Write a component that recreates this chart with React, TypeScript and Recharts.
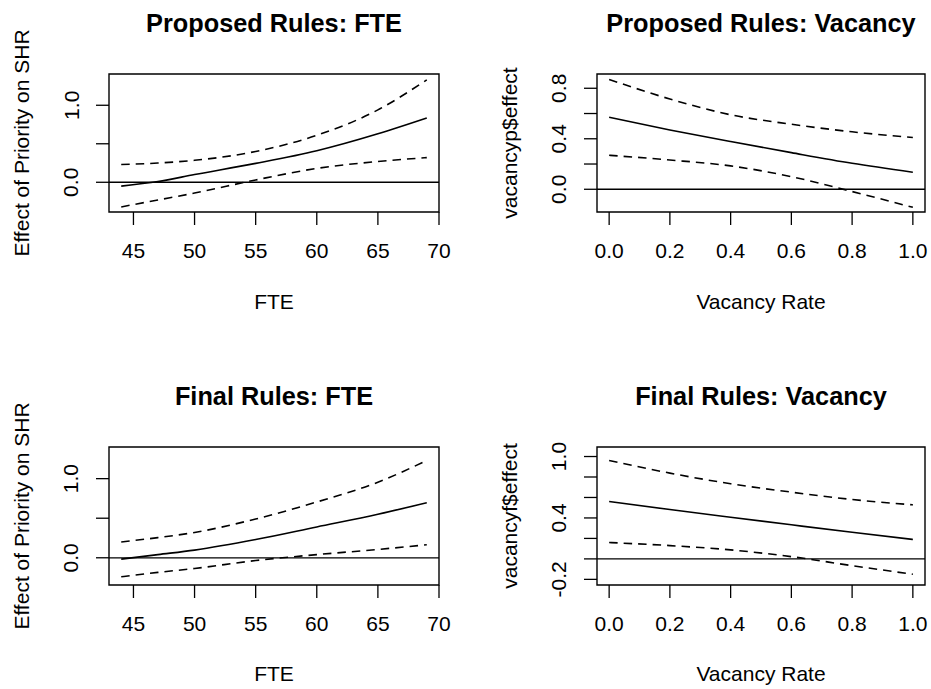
import React from "react";
import { LineChart, Line, XAxis, YAxis, ReferenceLine, ReferenceArea } from "recharts";

// ---- Data ----
const fteX = [44, 47, 50, 55, 60, 65, 69];
const propFteFit = [-0.05, 0.01, 0.1, 0.245, 0.41, 0.63, 0.835];
const propFteHi = [0.23, 0.25, 0.285, 0.4, 0.61, 0.94, 1.33];
const propFteLo = [-0.32, -0.23, -0.14, 0.03, 0.18, 0.27, 0.32];

const finalFteFit = [-0.017, 0.04, 0.097, 0.23, 0.39, 0.55, 0.695];
const finalFteHi = [0.2, 0.255, 0.32, 0.49, 0.705, 0.955, 1.23];
const finalFteLo = [-0.24, -0.185, -0.135, -0.035, 0.04, 0.105, 0.165];

const vacX = [0, 0.2, 0.4, 0.6, 0.8, 1.0];
const propVacFit = [0.57, 0.47, 0.378, 0.29, 0.206, 0.135];
const propVacHi = [0.87, 0.715, 0.59, 0.515, 0.455, 0.41];
const propVacLo = [0.269, 0.232, 0.185, 0.1, -0.018, -0.143];

const finalVacFit = [0.56, 0.482, 0.407, 0.333, 0.26, 0.19];
const finalVacHi = [0.962, 0.838, 0.734, 0.652, 0.58, 0.528];
const finalVacLo = [0.16, 0.13, 0.088, 0.022, -0.066, -0.15];

const fteTicks = [45, 50, 55, 60, 65, 70];
const vacTicks = [0, 0.2, 0.4, 0.6, 0.8, 1.0];
const fteYTicks = [0, 0.5, 1.0];
const fteYLabels = [0, 1.0];
const propVacYTicks = [0, 0.2, 0.4, 0.6, 0.8];
const propVacYLabels = [0, 0.4, 0.8];
const finalVacYTicks = [-0.2, 0, 0.2, 0.4, 0.6, 0.8, 1.0];
const finalVacYLabels = [-0.2, 0.4, 1.0];

const titles = ["Proposed Rules: FTE", "Proposed Rules: Vacancy", "Final Rules: FTE", "Final Rules: Vacancy"];
const xLabels = ["FTE", "Vacancy Rate", "FTE", "Vacancy Rate"];
const yLabels = ["Effect of Priority on SHR", "vacancyp$effect", "Effect of Priority on SHR", "vacancyf$effect"];

const FONT = '"Liberation Sans", Arial, Helvetica, sans-serif';
const TICK_FS = 21;
const TITLE_FS = 25.3;

function build(xs: number[], fit: number[], lo: number[], hi: number[]) {
  return xs.map((x, i) => ({ x, fit: fit[i], lo: lo[i], hi: hi[i] }));
}

type PanelProps = {
  left: number;
  top: number;
  width: number;
  yAxisWidth: number;
  marginRight: number;
  data: { x: number; fit: number; lo: number; hi: number }[];
  xDomain: [number, number];
  yDomain: [number, number];
  xTicks: number[];
  yTicks: number[];
  yLabelVals: number[];
  xFmt: (v: number) => string;
};

const H = 344;

function Panel(p: PanelProps) {
  const XTick = (props: any) => (
    <text
      x={props.x}
      y={props.y + 25}
      textAnchor="middle"
      dominantBaseline="central"
      fontFamily={FONT}
      fontSize={TICK_FS}
      fill="#000"
    >
      {p.xFmt(props.payload.value)}
    </text>
  );
  const YTick = (props: any) => {
    const v = props.payload.value;
    const show = p.yLabelVals.some((s) => Math.abs(s - v) < 1e-9);
    if (!show) return <g />;
    const cx = props.x - 25;
    const cy = props.y;
    return (
      <text
        x={cx}
        y={cy}
        transform={`rotate(-90, ${cx}, ${cy})`}
        textAnchor="middle"
        dominantBaseline="central"
        fontFamily={FONT}
        fontSize={TICK_FS}
        fill="#000"
      >
        {v.toFixed(1)}
      </text>
    );
  };
  return (
    <div style={{ position: "absolute", left: p.left, top: p.top, width: p.width, height: H }}>
      <LineChart
        width={p.width}
        height={H}
        data={p.data}
        margin={{ top: 74, right: p.marginRight, bottom: 92, left: 0 }}
      >
        <XAxis
          dataKey="x"
          type="number"
          domain={p.xDomain}
          ticks={p.xTicks}
          allowDataOverflow
          axisLine={false}
          tickLine={{ stroke: "#000", strokeWidth: 1.3 }}
          tickSize={13}
          tickMargin={0}
          height={40}
          tick={XTick}
          interval={0}
        />
        <YAxis
          type="number"
          domain={p.yDomain}
          ticks={p.yTicks}
          allowDataOverflow
          axisLine={false}
          tickLine={{ stroke: "#000", strokeWidth: 1.3 }}
          tickSize={13}
          tickMargin={0}
          width={p.yAxisWidth}
          tick={YTick}
          interval={0}
        />
        <ReferenceArea
          x1={p.xDomain[0]}
          x2={p.xDomain[1]}
          y1={p.yDomain[0]}
          y2={p.yDomain[1]}
          fill="none"
          fillOpacity={0}
          stroke="#000"
          strokeWidth={1.4}
          ifOverflow="visible"
        />
        <ReferenceLine y={0} stroke="#000" strokeWidth={1.3} />
        <Line type="monotone" dataKey="hi" stroke="#000" strokeWidth={1.6} strokeDasharray="8.5 6" dot={false} isAnimationActive={false} />
        <Line type="monotone" dataKey="fit" stroke="#000" strokeWidth={1.6} dot={false} isAnimationActive={false} />
        <Line type="monotone" dataKey="lo" stroke="#000" strokeWidth={1.6} strokeDasharray="8.5 6" dot={false} isAnimationActive={false} />
      </LineChart>
    </div>
  );
}

const fteFmt = (v: number) => String(v);
const vacFmt = (v: number) => v.toFixed(1);

export default function App() {
  const boxCx = [274, 761];
  const rowTitleY = [23.3, 395.8];
  const rowXLabY = [301.7, 673.8];
  const rowYLabY = [143, 516];
  const yLabX = [21, 509];
  return (
    <div style={{ position: "absolute", left: 0, top: 0, width: 931, height: 689, background: "#fff", overflow: "hidden" }}>
      <Panel
        left={0} top={0} width={465} yAxisWidth={109} marginRight={26}
        data={build(fteX, propFteFit, propFteLo, propFteHi)}
        xDomain={[43, 70]} yDomain={[-0.386, 1.406]}
        xTicks={fteTicks} yTicks={fteYTicks} yLabelVals={fteYLabels} xFmt={fteFmt}
      />
      <Panel
        left={470} top={0} width={461} yAxisWidth={127} marginRight={6}
        data={build(vacX, propVacFit, propVacLo, propVacHi)}
        xDomain={[-0.04, 1.04]} yDomain={[-0.18, 0.913]}
        xTicks={vacTicks} yTicks={propVacYTicks} yLabelVals={propVacYLabels} xFmt={vacFmt}
      />
      <Panel
        left={0} top={373} width={465} yAxisWidth={109} marginRight={26}
        data={build(fteX, finalFteFit, finalFteLo, finalFteHi)}
        xDomain={[43, 70]} yDomain={[-0.344, 1.4]}
        xTicks={fteTicks} yTicks={fteYTicks} yLabelVals={fteYLabels} xFmt={fteFmt}
      />
      <Panel
        left={470} top={373} width={461} yAxisWidth={127} marginRight={6}
        data={build(vacX, finalVacFit, finalVacLo, finalVacHi)}
        xDomain={[-0.04, 1.04]} yDomain={[-0.255, 1.093]}
        xTicks={vacTicks} yTicks={finalVacYTicks} yLabelVals={finalVacYLabels} xFmt={vacFmt}
      />
      <svg width={931} height={689} style={{ position: "absolute", left: 0, top: 0, pointerEvents: "none" }}>
        {titles.map((t, i) => (
          <text key={"t" + i} x={boxCx[i % 2]} y={rowTitleY[Math.floor(i / 2)]} textAnchor="middle" dominantBaseline="central"
            fontFamily={FONT} fontSize={TITLE_FS} fontWeight="bold" fill="#000">{t}</text>
        ))}
        {xLabels.map((t, i) => (
          <text key={"x" + i} x={boxCx[i % 2]} y={rowXLabY[Math.floor(i / 2)]} textAnchor="middle" dominantBaseline="central"
            fontFamily={FONT} fontSize={TICK_FS} fill="#000">{t}</text>
        ))}
        {yLabels.map((t, i) => {
          const cx = yLabX[i % 2];
          const cy = rowYLabY[Math.floor(i / 2)];
          return (
            <text key={"y" + i} x={cx} y={cy} transform={`rotate(-90, ${cx}, ${cy})`} textAnchor="middle" dominantBaseline="central"
              fontFamily={FONT} fontSize={TICK_FS} fill="#000">{t}</text>
          );
        })}
      </svg>
    </div>
  );
}
